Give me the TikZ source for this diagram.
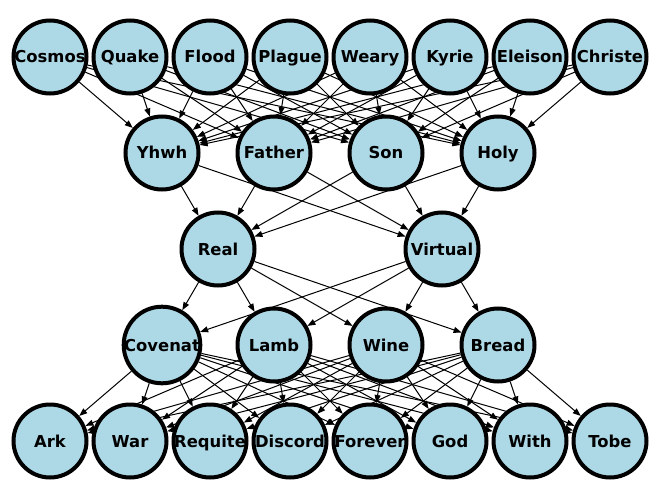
\documentclass[tikz,border=0pt]{standalone}
\usepackage{fontspec}
\setmainfont{DejaVu Sans}
\usetikzlibrary{arrows.meta,backgrounds}
\definecolor{ballfill}{HTML}{ADD8E6}

\begin{document}
\begin{tikzpicture}[x=0.75pt,y=-0.75pt,
font=\fontsize{12.3}{15}\selectfont\bfseries,
ball/.style={circle,draw=black,line width=3pt,fill=ballfill,
minimum size=54.75pt,inner sep=0pt,text height=9pt,text depth=0pt},
arr/.style={-{Triangle[length=6pt,width=4.5pt]},line width=0.75pt,color=black}]
\useasboundingbox (0,0) rectangle (660,499);
% rows of the graph
\foreach \name [count=\i from 0] in {Cosmos,Quake,Flood,Plague,Weary,Kyrie,Eleison,Christe}
  \node[ball] (\name) at ({50+80*\i},57) {\name};
\foreach \name [count=\i from 0] in {Yhwh,Father,Son,Holy}
  \node[ball] (\name) at ({162+112*\i},153) {\name};
\node[ball] (Real) at (218,249) {Real};
\node[ball] (Virtual) at (442,249) {Virtual};
\foreach \name [count=\i from 0] in {Covenat,Lamb,Wine,Bread}
  \node[ball] (\name) at ({162+112*\i},345) {\name};
\foreach \name [count=\i from 0] in {Ark,War,Requite,Discord,Forever,God,With,Tobe}
  \node[ball] (\name) at ({50+80*\i},441) {\name};
% every node feeds every node of the next row
\begin{scope}[on background layer]
\foreach \a in {Cosmos,Quake,Flood,Plague,Weary,Kyrie,Eleison,Christe}
  \foreach \b in {Yhwh,Father,Son,Holy}
    \draw[arr] (\a)--(\b);
\foreach \a in {Yhwh,Father,Son,Holy}
  \foreach \b in {Real,Virtual}
    \draw[arr] (\a)--(\b);
\foreach \a in {Real,Virtual}
  \foreach \b in {Covenat,Lamb,Wine,Bread}
    \draw[arr] (\a)--(\b);
\foreach \a in {Covenat,Lamb,Wine,Bread}
  \foreach \b in {Ark,War,Requite,Discord,Forever,God,With,Tobe}
    \draw[arr] (\a)--(\b);
\end{scope}
\end{tikzpicture}
\end{document}
